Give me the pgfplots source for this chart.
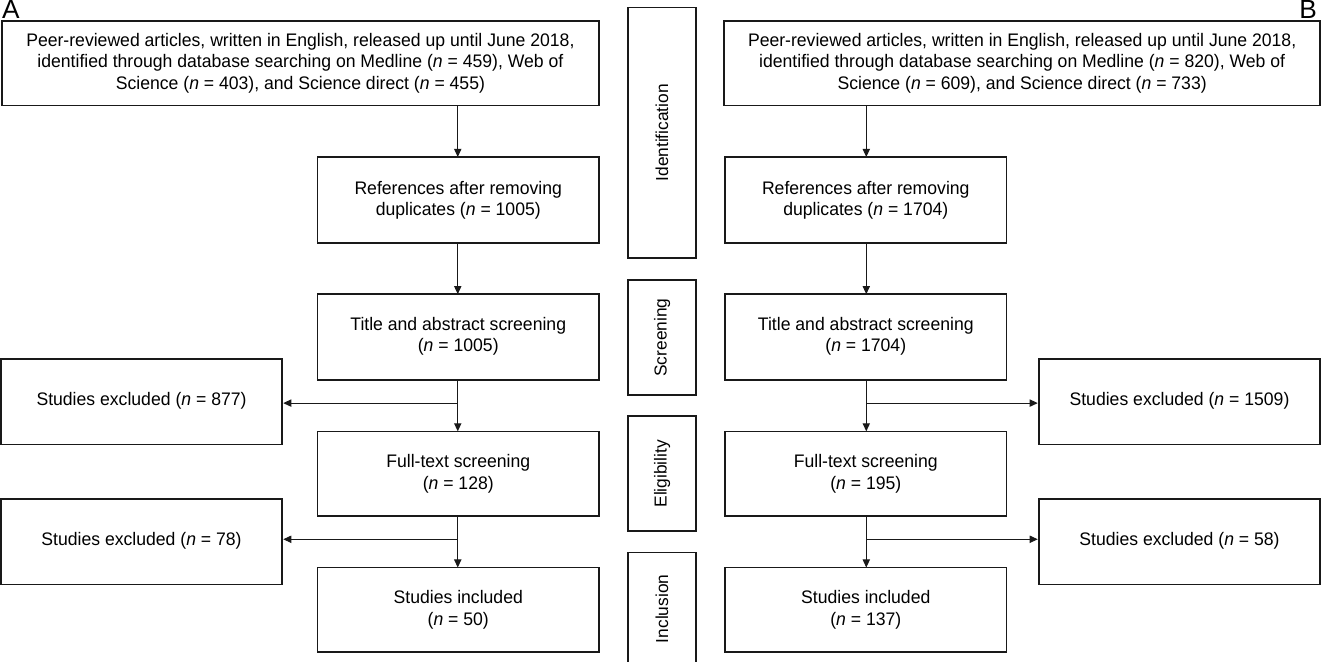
\documentclass[border=0pt]{standalone}
\usepackage{fontspec}
\setmainfont{Liberation Sans}
\newfontfamily\narrowfont[FakeStretch=0.97]{Liberation Sans}
\usepackage{pgfplots}
\pgfplotsset{compat=1.18}
\usetikzlibrary{arrows.meta}

\tikzset{
  box/.style={black!90, line width=0.8pt, mark=none, line join=miter},
  arr/.style={black!90, line width=0.5pt, mark=none, -{Triangle[length=4pt,width=3.6pt]}},
  boxtext/.style={align=center, font=\narrowfont\fontsize{9}{10.6}\selectfont},
  stage/.style={rotate=90, font=\fontsize{8.6}{10}\selectfont},
}

% box from x0 to x1, y0 to y1 (pixel units, y downwards)
\newcommand{\bx}[4]{\addplot[box] coordinates {(#1,#3) (#2,#3) (#2,#4) (#1,#4)} --cycle;}
\newcommand{\arr}[4]{\addplot[arr] coordinates {(#1,#2) (#3,#4)};}

\begin{document}
\begin{tikzpicture}
\begin{axis}[
  scale only axis, width=660.5pt, height=334.5pt,
  xmin=0, xmax=1321, ymin=0, ymax=669, y dir=reverse,
  axis lines=none, clip=true,
]
% panel A
\bx{9}{601}{34}{118}
\bx{322}{601}{169}{254}
\bx{322}{601}{305}{390}
\bx{8}{287}{369}{454}
\bx{322}{601}{441}{525}
\bx{8}{287}{508}{593}
\bx{322}{601}{576}{660}
% stage boxes
\bx{630}{697}{21}{269}
\bx{630}{697}{291}{405}
\bx{630}{697}{426}{540}
\bx{630}{697}{561}{690}
% panel B
\bx{725}{1316}{34}{118}
\bx{726}{1005}{169}{254}
\bx{726}{1005}{305}{390}
\bx{1037}{1316}{369}{454}
\bx{726}{1005}{441}{525}
\bx{1037}{1316}{508}{593}
\bx{726}{1005}{576}{660}
% arrows A
\arr{461}{118}{461}{169}
\arr{461}{254}{461}{305}
\arr{461}{390}{461}{441}
\arr{461}{413}{288}{413}
\arr{461}{525}{461}{576}
\arr{461}{548}{288}{548}
% arrows B
\arr{866}{118}{866}{169}
\arr{866}{254}{866}{305}
\arr{866}{390}{866}{441}
\arr{866}{413}{1036}{413}
\arr{866}{525}{866}{576}
\arr{866}{548}{1036}{548}

\node[anchor=north west, inner sep=0pt, font=\fontsize{13}{13}\selectfont] at (axis cs:9,13) {A};
\node[anchor=north east, inner sep=0pt, font=\fontsize{13}{13}\selectfont] at (axis cs:1313,13) {B};

\node[boxtext] at (axis cs:305,76) {Peer-reviewed articles, written in English, released up until June 2018,\\identified through database searching on Medline (\textit{n} = 459), Web of\\Science (\textit{n} = 403), and Science direct (\textit{n} = 455)};
\node[boxtext] at (axis cs:461.5,212) {References after removing\\duplicates (\textit{n} = 1005)};
\node[boxtext] at (axis cs:461.5,347) {Title and abstract screening\\(\textit{n} = 1005)};
\node[boxtext] at (axis cs:147.5,411) {Studies excluded (\textit{n} = 877)};
\node[boxtext] at (axis cs:461.5,483) {Full-text screening\\(\textit{n} = 128)};
\node[boxtext] at (axis cs:147.5,550) {Studies excluded (\textit{n} = 78)};
\node[boxtext] at (axis cs:461.5,618) {Studies included\\(\textit{n} = 50)};

\node[boxtext] at (axis cs:1020.5,76) {Peer-reviewed articles, written in English, released up until June 2018,\\identified through database searching on Medline (\textit{n} = 820), Web of\\Science (\textit{n} = 609), and Science direct (\textit{n} = 733)};
\node[boxtext] at (axis cs:865.5,212) {References after removing\\duplicates (\textit{n} = 1704)};
\node[boxtext] at (axis cs:865.5,347) {Title and abstract screening\\(\textit{n} = 1704)};
\node[boxtext] at (axis cs:1176.5,411) {Studies excluded (\textit{n} = 1509)};
\node[boxtext] at (axis cs:865.5,483) {Full-text screening\\(\textit{n} = 195)};
\node[boxtext] at (axis cs:1176.5,550) {Studies excluded (\textit{n} = 58)};
\node[boxtext] at (axis cs:865.5,618) {Studies included\\(\textit{n} = 137)};

\node[stage] at (axis cs:663.5,145) {Identification};
\node[stage] at (axis cs:663.5,348) {Screening};
\node[stage] at (axis cs:663.5,483) {Eligibility};
\node[stage] at (axis cs:663.5,617) {Inclusion};
\end{axis}
\end{tikzpicture}
\end{document}
